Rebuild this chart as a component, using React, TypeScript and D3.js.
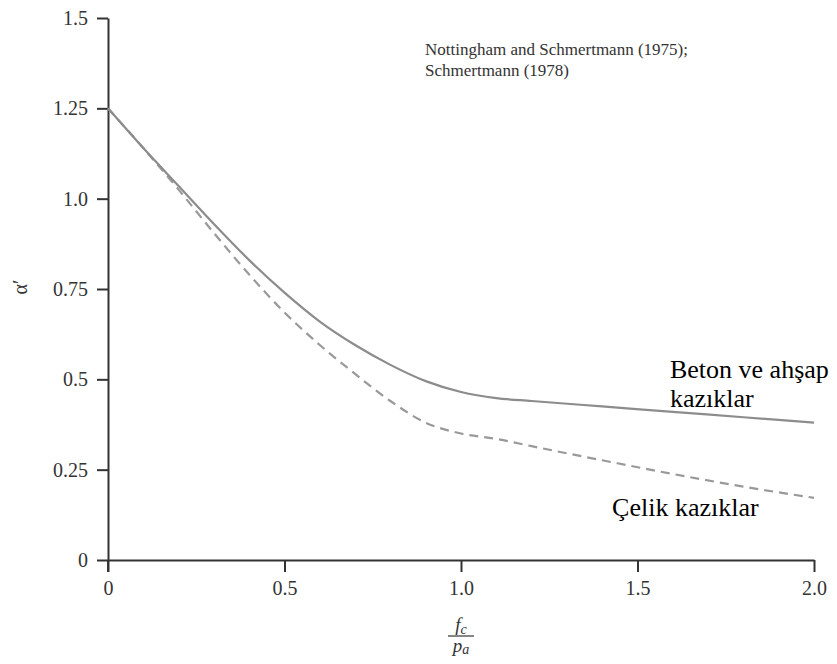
import { useEffect, useRef } from "react";
import * as d3 from "d3";

// f_c / p_a values and the two alpha' curves
const ratio = [0, 0.1, 0.2, 0.3, 0.4, 0.5, 0.6, 0.7, 0.8, 0.9, 1.0, 1.1, 1.2, 1.4, 1.6, 1.8, 2.0];
const concreteTimber = [1.25, 1.14, 1.035, 0.93, 0.83, 0.74, 0.66, 0.595, 0.54, 0.495, 0.465, 0.448, 0.44, 0.425, 0.41, 0.395, 0.38];
const steel = [1.25, 1.14, 1.025, 0.905, 0.79, 0.685, 0.595, 0.515, 0.44, 0.38, 0.35, 0.335, 0.315, 0.276, 0.238, 0.203, 0.172];

const xTicks = [0, 0.5, 1.0, 1.5, 2.0];
const xTickLabels = ["0", "0.5", "1.0", "1.5", "2.0"];
const yTicks = [0, 0.25, 0.5, 0.75, 1.0, 1.25, 1.5];
const yTickLabels = ["0", "0.25", "0.5", "0.75", "1.0", "1.25", "1.5"];

const sourceNote = ["Nottingham and Schmertmann (1975);", "Schmertmann (1978)"];
const concreteLabel = ["Beton ve ahşap", "kazıklar"];
const steelLabel = "Çelik kazıklar";

const FONT = "Liberation Serif";

function App() {
  const svgRef = useRef<SVGSVGElement>(null);
  const width = 837, height = 664;
  const margin = { top: 18, right: 23, bottom: 104, left: 108 };

  useEffect(() => {
    const svg = d3.select(svgRef.current);
    svg.selectAll("*").remove();

    const x = d3.scaleLinear().domain([0, 2]).range([margin.left, width - margin.right]);
    const y = d3.scaleLinear().domain([0, 1.5]).range([height - margin.bottom, margin.top]);

    const xAxis = svg.append("g")
      .attr("transform", `translate(0, ${y(0)})`)
      .call(d3.axisBottom(x).tickValues(xTicks).tickFormat((d, i) => xTickLabels[i]).tickSize(12).tickSizeOuter(0).tickPadding(9));
    const yAxis = svg.append("g")
      .attr("transform", `translate(${x(0)}, 0)`)
      .call(d3.axisLeft(y).tickValues(yTicks).tickFormat((d, i) => yTickLabels[i]).tickSize(11).tickSizeOuter(0).tickPadding(9));

    [xAxis, yAxis].forEach(g => {
      g.attr("font-family", FONT).attr("font-size", 20);
      g.selectAll("path, line").attr("stroke", "#333").attr("stroke-width", 2);
      g.selectAll("text").attr("fill", "#333");
    });
    // y axis runs a little below the x axis
    yAxis.append("line").attr("x1", 0).attr("x2", 0).attr("y1", y(0)).attr("y2", y(0) + 12)
      .attr("stroke", "#333").attr("stroke-width", 2);

    const line = (vals: number[]) => d3.line<number>()
      .x((d, i) => x(ratio[i]))
      .y(d => y(d))
      .curve(d3.curveMonotoneX)(vals);

    svg.append("path").attr("d", line(steel)).attr("fill", "none")
      .attr("stroke", "#999").attr("stroke-width", 2.2).attr("stroke-dasharray", "9,6");
    svg.append("path").attr("d", line(concreteTimber)).attr("fill", "none")
      .attr("stroke", "#8c8c8c").attr("stroke-width", 2.2);

    // y label
    svg.append("text")
      .attr("transform", `translate(27, ${y(0.75) - 2}) rotate(-90)`)
      .attr("text-anchor", "middle")
      .attr("font-family", FONT).attr("font-size", 20).attr("fill", "#333")
      .text("α′");

    // x label as a fraction
    const fx = x(1.0);
    const num = svg.append("text").attr("x", fx).attr("y", y(0) + 71).attr("text-anchor", "middle")
      .attr("font-family", FONT).attr("font-size", 19).attr("font-style", "italic").attr("fill", "#333");
    num.append("tspan").text("f");
    num.append("tspan").attr("font-size", 14).attr("dy", 3).text("c");
    svg.append("line").attr("x1", fx - 13).attr("x2", fx + 13).attr("y1", y(0) + 76).attr("y2", y(0) + 76)
      .attr("stroke", "#333").attr("stroke-width", 1.2);
    const den = svg.append("text").attr("x", fx).attr("y", y(0) + 92).attr("text-anchor", "middle")
      .attr("font-family", FONT).attr("font-size", 19).attr("font-style", "italic").attr("fill", "#333");
    den.append("tspan").text("p");
    den.append("tspan").attr("font-size", 14).attr("dy", 2).text("a");

    // source note
    svg.append("g").selectAll("text").data(sourceNote).enter().append("text")
      .attr("x", x(0.898)).attr("y", (d, i) => y(1.397) + i * 21)
      .attr("font-family", FONT).attr("font-size", 17).attr("fill", "#333")
      .text(d => d);

    // curve labels
    svg.append("g").selectAll("text").data(concreteLabel).enter().append("text")
      .attr("x", x(1.592)).attr("y", (d, i) => y(0.503) + i * 29)
      .attr("font-family", FONT).attr("font-size", 26).attr("fill", "#000")
      .text(d => d);
    svg.append("text").attr("x", x(1.428)).attr("y", y(0.122))
      .attr("font-family", FONT).attr("font-size", 26).attr("fill", "#000")
      .text(steelLabel);
  }, []);

  return (
    <div style={{ position: "absolute", left: 0, top: 0, background: "#fff" }}>
      <svg ref={svgRef} width={width} height={height} style={{ display: "block" }}></svg>
    </div>
  );
}

export default App;
